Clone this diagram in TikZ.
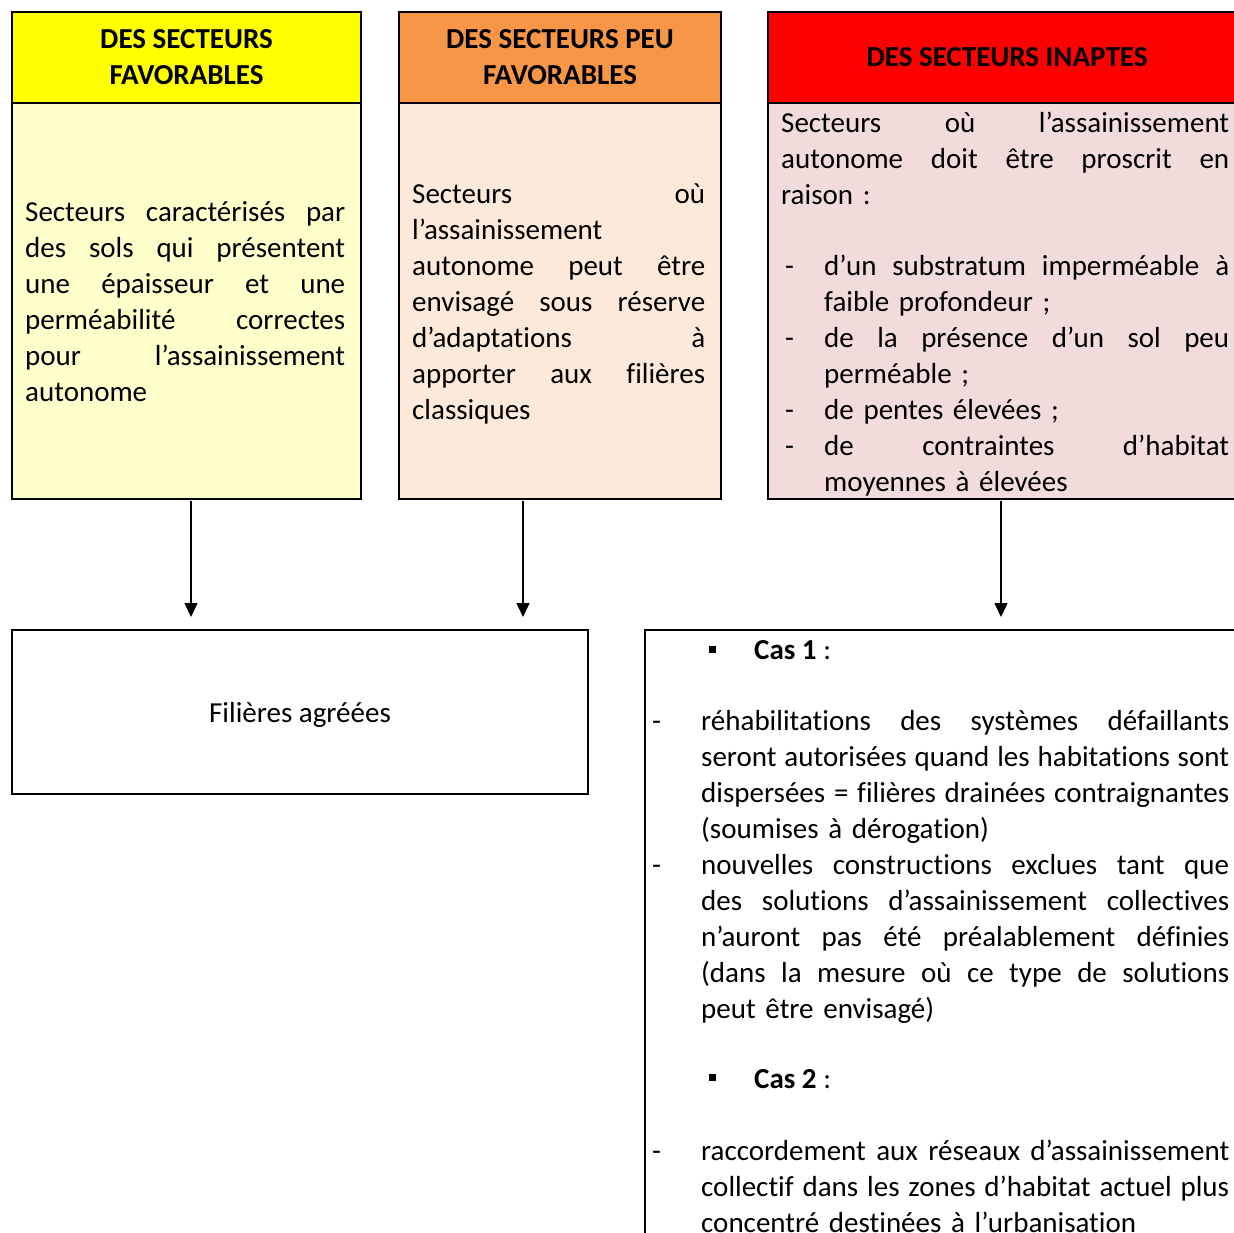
\documentclass[tikz,border=0pt]{standalone}
\usepackage{fontspec}
\setmainfont[Ligatures=NoCommon]{Carlito}
\usetikzlibrary{arrows.meta}
\definecolor{hyel}{HTML}{FFFF00}
\definecolor{byel}{HTML}{FFFFCC}
\definecolor{horg}{HTML}{F79646}
\definecolor{borg}{HTML}{FDE9D9}
\definecolor{hred}{HTML}{FF0000}
\definecolor{bred}{HTML}{F2DCDB}
\newlength\jw
\newcommand\J[1]{\hbox to \jw{\spaceskip=0.226em plus 1fil minus 0.09em\relax #1}\par}
\newcommand\LL[1]{\hbox{#1}\par}
\newcommand\bodyf{\fontsize{29bp}{36bp}\selectfont}
\tikzset{
  box/.style={draw=black, line width=2bp, inner sep=0pt, anchor=north west},
  head/.style={box, font=\bodyf\bfseries, align=center},
  txt/.style={anchor=base west, inner sep=0pt, font=\bodyf},
  arr/.style={line width=1.5bp, -{Triangle[width=13bp,length=14bp]}},
}
\begin{document}
\begin{tikzpicture}[x=1bp,y=-1bp]
\useasboundingbox (0,0) rectangle (1234,1233);
\clip (0,0) rectangle (1234,1233);
\fill[white] (0,0) rectangle (1234,1233);
% top boxes
\node[box, fill=byel, minimum width=349bp, minimum height=396bp] (b1) at (11,102) {};
\node[head, fill=hyel, minimum width=349bp, minimum height=91bp] (h1) at (11,11) {DES SECTEURS\\FAVORABLES};
\node[box, fill=borg, minimum width=322bp, minimum height=396bp] (b2) at (398,102) {};
\node[head, fill=horg, minimum width=322bp, minimum height=91bp] (h2) at (398,11) {DES SECTEURS PEU\\FAVORABLES};
\node[box, fill=bred, minimum width=478bp, minimum height=396bp] (b3) at (767,102) {};
\node[head, fill=hred, minimum width=478bp, minimum height=91bp] (h3) at (767,11) {DES SECTEURS INAPTES};
% bottom boxes
\node[box, minimum width=576bp, minimum height=164bp, font=\bodyf, text depth=0pt] (f) at (11,629) {Filières agréées};
\node[box, minimum width=640bp, minimum height=700bp] (c) at (644,629) {};
% arrows
\coordinate (a1) at (191,0);
\coordinate (a2) at (523,0);
\coordinate (a3) at (1001,0);
\draw[arr, shorten <=1bp, shorten >=12bp] (b1.south -| a1) -- (f.north -| a1);
\draw[arr, shorten <=1bp, shorten >=12bp] (b2.south -| a2) -- (f.north -| a2);
\draw[arr, shorten <=1bp, shorten >=12bp] (b3.south -| a3) -- (c.north -| a3);
% box 1 text
\node[txt, text width=320bp] (t1) at (25,221) {\setlength\jw{320bp}%
\J{Secteurs caractérisés par}
\J{des sols qui présentent}
\J{une épaisseur et une}
\J{perméabilité correctes}
\J{pour l’assainissement}
\LL{autonome}};
% box 2 text
\node[txt, text width=293bp] (t2) at (412,203) {\setlength\jw{293bp}%
\J{Secteurs où}
\LL{l’assainissement}
\J{autonome peut être}
\J{envisagé sous réserve}
\J{d’adaptations à}
\J{apporter aux filières}
\LL{classiques}};
% box 3 text
\node[txt, text width=448bp] (t3) at (781,132) {\setlength\jw{448bp}%
\J{Secteurs où l’assainissement}
\J{autonome doit être proscrit en}
\LL{raison :}};
\node[txt] (d3a) at (785,275) {-};
\node[txt] (d3b) at (785,347) {-};
\node[txt] (d3c) at (785,419) {-};
\node[txt] (d3d) at (785,455) {-};
\node[txt, text width=405bp] (t3a) at (824,275) {\setlength\jw{405bp}%
\J{d’un substratum imperméable à}
\LL{faible profondeur ;}
\J{de la présence d’un sol peu}
\LL{perméable ;}
\LL{de pentes élevées ;}
\J{de contraintes d’habitat}
\LL{moyennes à élevées}};
% box 5 text
\node[fill=black, minimum size=7bp, inner sep=0pt] (s1) at (712,649) {};
\node[txt] (cas1) at (754,659) {\textbf{Cas 1} :};
\node[txt] (d5a) at (652,730) {-};
\node[txt] (d5b) at (652,874) {-};
\node[txt, text width=528bp] (t5a) at (701,730) {\setlength\jw{528bp}%
\J{réhabilitations des systèmes défaillants}
\J{seront autorisées quand les habitations sont}
\J{dispersées = filières drainées contraignantes}
\LL{(soumises à dérogation)}
\J{nouvelles constructions exclues tant que}
\J{des solutions d’assainissement collectives}
\J{n’auront pas été préalablement définies}
\J{(dans la mesure où ce type de solutions}
\LL{peut être envisagé)}};
\node[fill=black, minimum size=7bp, inner sep=0pt] (s2) at (712,1077) {};
\node[txt] (cas2) at (754,1088) {\textbf{Cas 2} :};
\node[txt] (d5c) at (652,1160) {-};
\node[txt, text width=528bp] (t5b) at (701,1160) {\setlength\jw{528bp}%
\J{raccordement aux réseaux d’assainissement}
\J{collectif dans les zones d’habitat actuel plus}
\LL{concentré destinées à l’urbanisation}};
\end{tikzpicture}
\end{document}
